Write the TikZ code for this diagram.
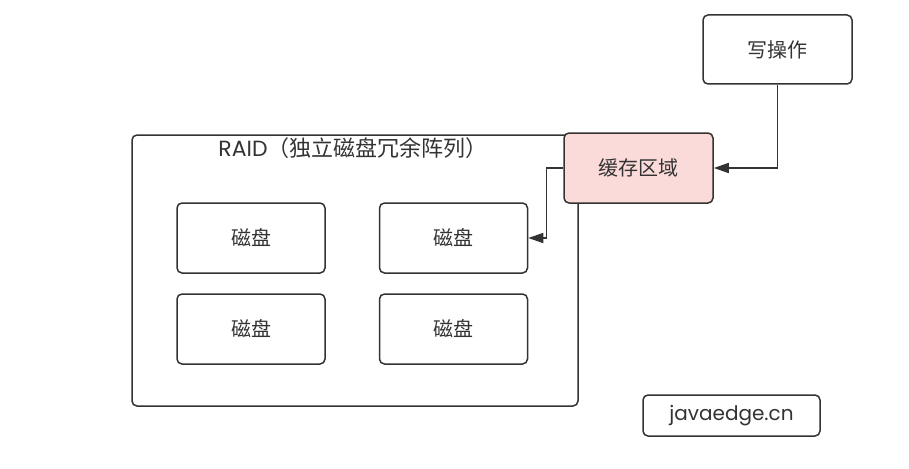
\documentclass[tikz,border=0pt]{standalone}
\usepackage{fontspec}
\usepackage{tikz}
\usetikzlibrary{arrows.meta}
\usetikzlibrary{positioning}
\setmainfont{Poppins}
\newfontfamily\cjk{Noto Sans CJK SC}
\definecolor{mline}{rgb}{0.2, 0.2, 0.2}
\definecolor{mtext}{rgb}{0.2, 0.2, 0.2}
\definecolor{mpink}{rgb}{0.98, 0.86, 0.85}
\tikzset{
  box/.style={draw=mline, line width=1.5pt, rounded corners=5pt, fill=white,
    minimum width=148pt, minimum height=70pt, inner sep=0pt, text=mtext,
    font=\cjk\fontsize{20}{22}\selectfont},
  link/.style={draw=mline, line width=1.5pt, -{Triangle[length=15pt, width=10pt]}}
}
\begin{document}
\begin{tikzpicture}[x=1pt, y=-1pt]
  \useasboundingbox (0, 0) rectangle (909, 468);
  \draw [mline, line width=1.5pt, rounded corners=5pt] (132, 135) rectangle (578, 406);
  \node [text=mtext, font=\fontsize{22}{24}\selectfont] (raid) at (353, 148)
    {RAID{\cjk（独立磁盘冗余阵列）}};
  \node [box] (diskA) at (251, 238) {磁盘};
  \node [box] (diskB) at (453.5, 238) {磁盘};
  \node [box] (diskC) at (251, 329) {磁盘};
  \node [box] (diskD) at (453.5, 329) {磁盘};
  \node [box, fill=mpink, minimum width=149pt] (cache) at (638.5, 168) {缓存区域};
  \node [box, minimum width=149pt, minimum height=69pt] (write) at (777.5, 49.5) {写操作};
  \node [box, minimum width=177pt, minimum height=41pt, font=\fontsize{20}{22}\selectfont]
    (site) at (731.5, 415.5) {javaedge.cn};
  \draw [link] (write.south) |- (cache.east);
  \draw [link] (cache.west) -- ++(-17, 0) |- (diskB.east);
\end{tikzpicture}
\end{document}
